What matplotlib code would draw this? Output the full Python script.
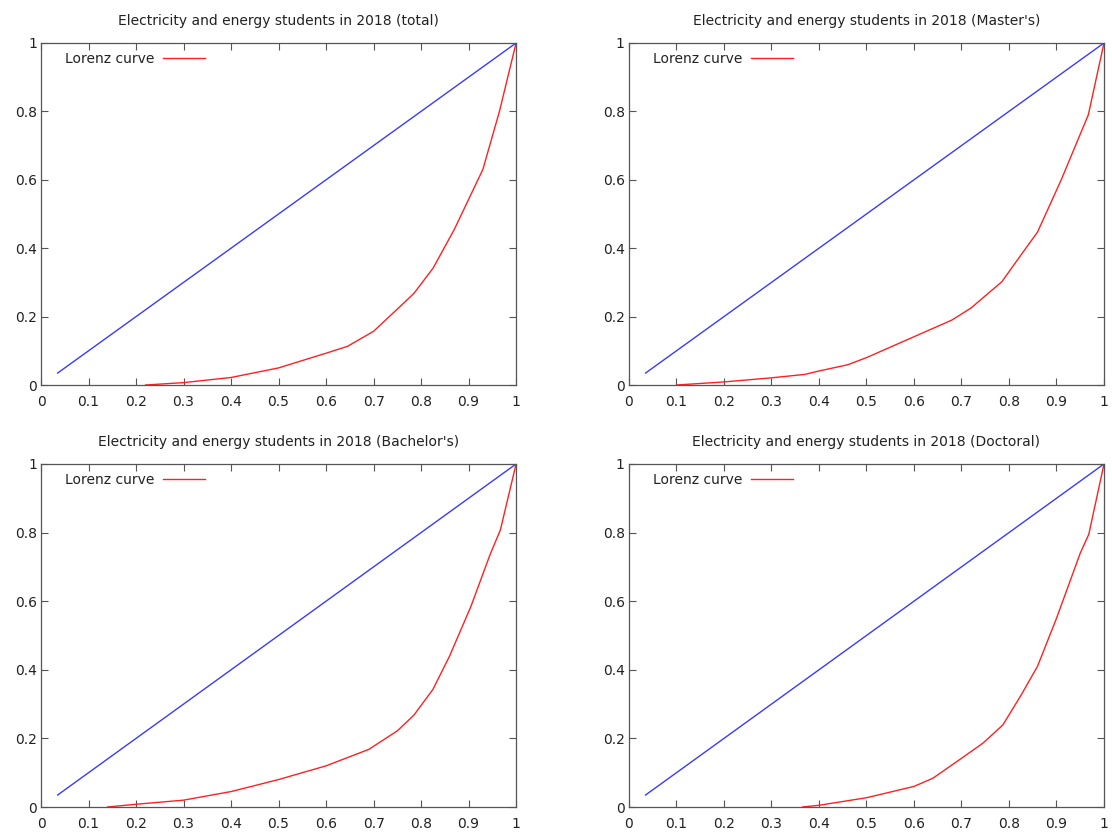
import matplotlib
matplotlib.use('Agg')
import matplotlib.pyplot as plt
from matplotlib.ticker import FormatStrFormatter

# cumulative share of institutions (x) and of students (y)
totalX = [0.22, 0.3, 0.4, 0.5, 0.6, 0.645, 0.7, 0.75, 0.785, 0.825, 0.87, 0.93, 0.965, 1.0]
totalY = [0.0, 0.007, 0.022, 0.05, 0.093, 0.113, 0.157, 0.222, 0.268, 0.341, 0.455, 0.63, 0.80, 1.0]

mastersX = [0.1, 0.2, 0.3, 0.37, 0.4, 0.46, 0.5, 0.59, 0.68, 0.72, 0.785, 0.82, 0.86, 0.91, 0.967, 1.0]
mastersY = [0.0, 0.009, 0.021, 0.031, 0.041, 0.059, 0.08, 0.135, 0.19, 0.225, 0.302, 0.37, 0.447, 0.6, 0.79, 1.0]

bachelorsX = [0.14, 0.2, 0.3, 0.4, 0.5, 0.6, 0.69, 0.75, 0.785, 0.825, 0.86, 0.905, 0.945, 0.967, 1.0]
bachelorsY = [0.0, 0.008, 0.02, 0.045, 0.08, 0.12, 0.168, 0.222, 0.268, 0.343, 0.44, 0.585, 0.735, 0.808, 1.0]

doctoralX = [0.365, 0.4, 0.5, 0.6, 0.64, 0.7, 0.745, 0.787, 0.825, 0.86, 0.9, 0.95, 0.968, 1.0]
doctoralY = [0.0, 0.005, 0.027, 0.06, 0.084, 0.142, 0.186, 0.239, 0.325, 0.41, 0.55, 0.74, 0.795, 1.0]

# line of equality
equalX = [0.035, 1.0]
equalY = [0.035, 1.0]

titles = ["Electricity and energy students in 2018 (total)",
          "Electricity and energy students in 2018 (Master's)",
          "Electricity and energy students in 2018 (Bachelor's)",
          "Electricity and energy students in 2018 (Doctoral)"]

ticks = [0, 0.1, 0.2, 0.3, 0.4, 0.5, 0.6, 0.7, 0.8, 0.9, 1]
yticks = [0, 0.2, 0.4, 0.6, 0.8, 1]


def main():
    fig = plt.figure(figsize=(11.12, 8.33), dpi=100)
    # axes boxes in figure fractions: [left, bottom, width, height]
    boxes = [[0.0369, 0.5378, 0.4272, 0.4106],
             [0.5656, 0.5378, 0.4272, 0.4106],
             [0.0369, 0.0312, 0.4272, 0.4118],
             [0.5656, 0.0312, 0.4272, 0.4118]]
    data = [(totalX, totalY), (mastersX, mastersY),
            (bachelorsX, bachelorsY), (doctoralX, doctoralY)]
    for i in range(4):
        ax = fig.add_axes(boxes[i])
        makePanel(ax, data[i][0], data[i][1], titles[i])
    fig.savefig('out.png', dpi=100)


def makePanel(ax, x, y, title):
    ax.plot(x, y, color='#ff2020', linewidth=1.0, label='Lorenz curve')
    ax.plot(equalX, equalY, color='#3a3aff', linewidth=1.0)
    ax.set_xlim(0, 1)
    ax.set_ylim(0, 1)
    ax.set_xticks(ticks)
    ax.set_yticks(yticks)
    ax.xaxis.set_major_formatter(FormatStrFormatter('%g'))
    ax.yaxis.set_major_formatter(FormatStrFormatter('%g'))
    ax.tick_params(direction='in', length=5, width=0.8, color='#555555',
                   top=True, right=True, labelsize=10, labelcolor='#222222')
    ax.tick_params(axis='x', pad=7)
    ax.tick_params(axis='y', pad=3)
    for s in ax.spines.values():
        s.set_color('#555555')
        s.set_linewidth(0.9)
    ax.set_title(title, fontsize=10, color='#222222', pad=13)
    ax.legend(loc='upper left', bbox_to_anchor=(0.05, 0.975), markerfirst=False,
              frameon=False, fontsize=10, handlelength=3.0, handletextpad=0.65,
              borderaxespad=0, borderpad=0, labelcolor='#222222')


if __name__ == "__main__":
    main()
